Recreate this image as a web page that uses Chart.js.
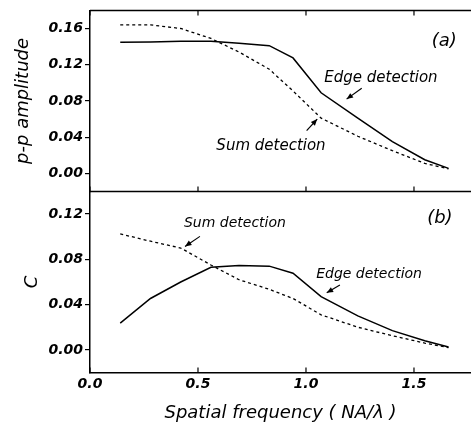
<!DOCTYPE html>
<html>
<head>
<meta charset="utf-8">
<script src="https://cdn.jsdelivr.net/npm/chart.js@4.4.0/dist/chart.umd.min.js"></script>
<style>
  html, body { margin: 0; padding: 0; background: #fff; }
  #wrap { width: 471px; height: 430px; }
</style>
</head>
<body>
<div id="wrap"><canvas id="plot" width="471" height="430"></canvas></div>
<script>
// spatial frequency (NA/lambda) of the measured points
const freq = [0.14, 0.28, 0.42, 0.56, 0.69, 0.83, 0.94, 1.07, 1.24, 1.40, 1.55, 1.66];
// panel (a): peak-to-peak amplitude
const ampEdge = [0.1447, 0.1452, 0.146, 0.1458, 0.1436, 0.141, 0.1275, 0.089, 0.061, 0.035, 0.015, 0.0055];
const ampSum = [0.164, 0.164, 0.160, 0.149, 0.134, 0.115, 0.091, 0.061, 0.041, 0.025, 0.011, 0.005];
// panel (b): contrast C
const contrastEdge = [0.0237, 0.0454, 0.060, 0.073, 0.0745, 0.074, 0.0677, 0.047, 0.030, 0.017, 0.008, 0.0025];
const contrastSum = [0.1025, 0.096, 0.090, 0.075, 0.062, 0.0535, 0.0454, 0.031, 0.020, 0.0125, 0.006, 0.002];

const xTicks = [0, 0.5, 1.0, 1.5];
const ampTicks = [0, 0.04, 0.08, 0.12, 0.16];
const contrastTicks = [0, 0.04, 0.08, 0.12];

// text labels and arrows, placed in data units of their panel
const notes = [
  { axis: 'yAmp', text: '(a)', x: 1.64, y: 0.146, size: 18 },
  { axis: 'yAmp', text: 'Edge detection', x: 1.347, y: 0.105, size: 15 },
  { axis: 'yAmp', text: 'Sum detection', x: 0.838, y: 0.0296, size: 15 },
  { axis: 'yC', text: '(b)', x: 1.62, y: 0.1161, size: 18 },
  { axis: 'yC', text: 'Sum detection', x: 0.671, y: 0.1116, size: 14 },
  { axis: 'yC', text: 'Edge detection', x: 1.292, y: 0.0671, size: 14 }
];
const arrows = [
  { axis: 'yAmp', from: [1.258, 0.094], to: [1.188, 0.082] },
  { axis: 'yAmp', from: [1.003, 0.0471], to: [1.052, 0.060] },
  { axis: 'yC', from: [0.509, 0.1003], to: [0.440, 0.0914] },
  { axis: 'yC', from: [1.157, 0.0573], to: [1.096, 0.0504] }
];

const family = '"DejaVu Sans", "Liberation Sans", sans-serif';
const tickFont = { family: family, size: 14, style: 'italic', weight: 'bold' };
const titleFont = { family: family, size: 18, style: 'italic', weight: 'normal' };

const points = (ys) => freq.map((f, i) => ({ x: f, y: ys[i] }));

function drawArrow(ctx, x1, y1, x2, y2) {
  const a = Math.atan2(y2 - y1, x2 - x1);
  ctx.beginPath();
  ctx.moveTo(x1, y1);
  ctx.lineTo(x2, y2);
  ctx.stroke();
  ctx.beginPath();
  ctx.moveTo(x2, y2);
  ctx.lineTo(x2 - 7 * Math.cos(a - 0.4), y2 - 7 * Math.sin(a - 0.4));
  ctx.lineTo(x2 - 7 * Math.cos(a + 0.4), y2 - 7 * Math.sin(a + 0.4));
  ctx.closePath();
  ctx.fill();
}

const framePlugin = {
  id: 'frame',
  afterDatasetsDraw(chart) {
    const { ctx, chartArea, scales } = chart;
    const x = scales.x;
    const split = scales.yAmp.bottom;
    ctx.save();
    ctx.strokeStyle = '#000';
    ctx.fillStyle = '#000';
    ctx.lineWidth = 1.5;
    ctx.beginPath();
    ctx.moveTo(chartArea.left, chartArea.top);
    ctx.lineTo(chartArea.right, chartArea.top);
    ctx.moveTo(chartArea.left, split);
    ctx.lineTo(chartArea.right, split);
    ctx.stroke();

    // inward x ticks on each horizontal frame line
    ctx.lineWidth = 1.2;
    ctx.beginPath();
    xTicks.forEach(v => {
      const px = x.getPixelForValue(v);
      ctx.moveTo(px, chartArea.top);
      ctx.lineTo(px, chartArea.top + 5);
      ctx.moveTo(px, split);
      ctx.lineTo(px, split - 5);
      ctx.moveTo(px, chartArea.bottom);
      ctx.lineTo(px, chartArea.bottom - 5);
    });
    ctx.stroke();

    ctx.textAlign = 'center';
    ctx.textBaseline = 'middle';
    notes.forEach(n => {
      ctx.font = 'italic ' + n.size + 'px ' + family;
      ctx.fillText(n.text, x.getPixelForValue(n.x), scales[n.axis].getPixelForValue(n.y));
    });

    ctx.lineWidth = 1.2;
    arrows.forEach(a => {
      const y = scales[a.axis];
      drawArrow(ctx,
        x.getPixelForValue(a.from[0]), y.getPixelForValue(a.from[1]),
        x.getPixelForValue(a.to[0]), y.getPixelForValue(a.to[1]));
    });
    ctx.restore();
  }
};

const yAxis = (min, max, ticks, title, titlePad) => ({
  type: 'linear',
  position: 'left',
  stack: 'panels',
  stackWeight: 1,
  min: min,
  max: max,
  afterBuildTicks: s => { s.ticks = ticks.map(v => ({ value: v })); },
  afterFit: s => { s.width = 90; },
  ticks: { font: tickFont, color: '#000', padding: 2, callback: v => v.toFixed(2) },
  grid: { drawOnChartArea: false, drawTicks: true, tickLength: 5, color: '#000', lineWidth: 1.2 },
  border: { display: true, color: '#000', width: 1.5 },
  title: { display: true, text: title, font: titleFont, color: '#000', padding: { top: titlePad, bottom: 0 } }
});

const lineStyle = (dashed) => ({
  borderColor: '#000',
  borderWidth: dashed ? 1.3 : 1.5,
  borderDash: dashed ? [3, 3] : [],
  pointRadius: 0,
  tension: 0,
  fill: false
});

new Chart(document.getElementById('plot'), {
  type: 'line',
  data: {
    datasets: [
      { label: 'Edge detection (a)', data: points(ampEdge), yAxisID: 'yAmp', ...lineStyle(false) },
      { label: 'Sum detection (a)', data: points(ampSum), yAxisID: 'yAmp', ...lineStyle(true) },
      { label: 'Edge detection (b)', data: points(contrastEdge), yAxisID: 'yC', ...lineStyle(false) },
      { label: 'Sum detection (b)', data: points(contrastSum), yAxisID: 'yC', ...lineStyle(true) }
    ]
  },
  options: {
    responsive: false,
    animation: false,
    devicePixelRatio: 1,
    layout: { padding: { top: 9, right: 0, bottom: 0, left: 0 } },
    plugins: { legend: { display: false }, tooltip: { enabled: false } },
    scales: {
      x: {
        type: 'linear',
        min: 0,
        max: 1.764,
        afterBuildTicks: s => { s.ticks = xTicks.map(v => ({ value: v })); },
        afterFit: s => { s.height = 57.5; },
        ticks: { font: tickFont, color: '#000', padding: 3, maxRotation: 0, callback: v => v.toFixed(1) },
        grid: { display: false, drawTicks: false },
        border: { display: true, color: '#000', width: 1.5 },
        title: { display: true, text: 'Spatial frequency ( NA/λ )', font: titleFont, color: '#000', padding: { top: 10, bottom: 6 } }
      },
      // the later axis is stacked on top
      yC: yAxis(-0.02, 0.14, contrastTicks, 'C', 22),
      yAmp: yAxis(-0.02, 0.18, ampTicks, 'p-p amplitude', 13)
    }
  },
  plugins: [framePlugin]
});
</script>
</body>
</html>
